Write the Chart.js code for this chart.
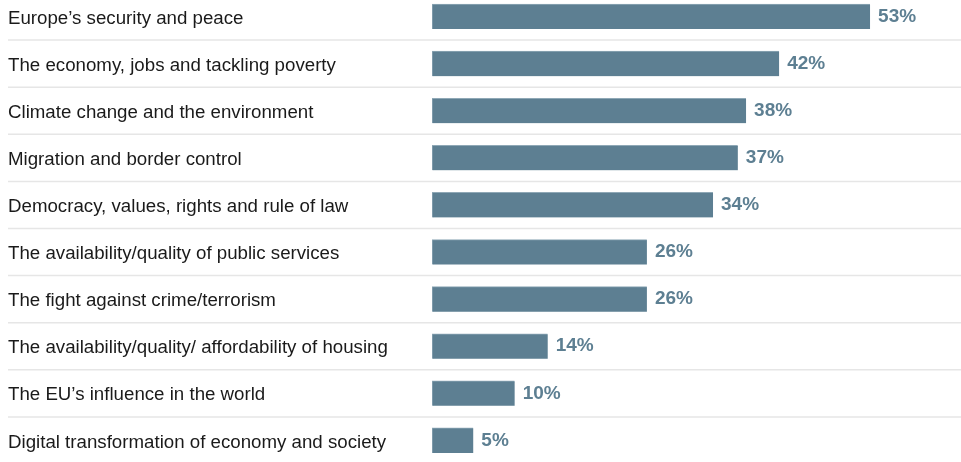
<!DOCTYPE html>
<html>
<head>
<meta charset="utf-8">
<script src="https://cdn.jsdelivr.net/npm/chart.js@4/dist/chart.umd.min.js"></script>
<style>
  html, body { margin: 0; padding: 0; background: #ffffff; overflow: hidden; }
  #wrap { position: absolute; left: 0; top: -7px; width: 961px; height: 471px; }
</style>
</head>
<body>
<div id="wrap"><canvas id="c"></canvas></div>
<script>
const categories = [
  "Europe\u2019s security and peace",
  "The economy, jobs and tackling poverty",
  "Climate change and the environment",
  "Migration and border control",
  "Democracy, values, rights and rule of law",
  "The availability/quality of public services",
  "The fight against crime/terrorism",
  "The availability/quality/ affordability of housing",
  "The EU\u2019s influence in the world",
  "Digital transformation of economy and society"
];
const values = [53, 42, 38, 37, 34, 26, 26, 14, 10, 5];
const valueSuffix = "%";

const BAR_COLOR = "#5d7f92";
const FONT = "'Liberation Sans', Arial, Helvetica, sans-serif";

const separators = {
  id: "separators",
  beforeDatasetsDraw(chart) {
    const ctx = chart.ctx;
    const y = chart.scales.y;
    ctx.save();
    ctx.strokeStyle = "#e6e6e6";
    ctx.lineWidth = 1.5;
    for (let i = 0; i < categories.length - 1; i++) {
      const py = (y.getPixelForValue(i) + y.getPixelForValue(i + 1)) / 2;
      ctx.beginPath();
      ctx.moveTo(8, py);
      ctx.lineTo(chart.width, py);
      ctx.stroke();
    }
    ctx.restore();
  }
};

const valueLabels = {
  id: "valueLabels",
  afterDatasetsDraw(chart) {
    const ctx = chart.ctx;
    const meta = chart.getDatasetMeta(0);
    ctx.save();
    ctx.fillStyle = BAR_COLOR;
    ctx.font = "bold 19px " + FONT;
    ctx.textAlign = "left";
    ctx.textBaseline = "middle";
    meta.data.forEach((bar, i) => {
      ctx.fillText(values[i] + valueSuffix, bar.x + 8, bar.y);
    });
    ctx.restore();
  }
};

new Chart(document.getElementById("c"), {
  type: "bar",
  data: {
    labels: categories,
    datasets: [{
      data: values,
      backgroundColor: BAR_COLOR,
      borderColor: "#8fa8b6",
      borderWidth: { top: 1, left: 1, right: 0, bottom: 0 },
      borderSkipped: false,
      barThickness: 25
    }]
  },
  options: {
    indexAxis: "y",
    responsive: true,
    maintainAspectRatio: false,
    animation: false,
    layout: { padding: { left: 8, right: 0, top: 0, bottom: 0 } },
    plugins: { legend: { display: false }, tooltip: { enabled: false } },
    scales: {
      x: { display: false, min: 0, max: 64 },
      y: {
        offset: true,
        grid: { display: false },
        border: { display: false },
        afterFit(s) { s.width = 424; s.paddingTop = 0; s.paddingBottom = 0; },
        ticks: {
          crossAlign: "far",
          color: "#1a1a1a",
          padding: 0,
          labelOffset: 2,
          font: { family: FONT, size: 18.7 }
        }
      }
    }
  },
  plugins: [separators, valueLabels]
});
</script>
</body>
</html>
